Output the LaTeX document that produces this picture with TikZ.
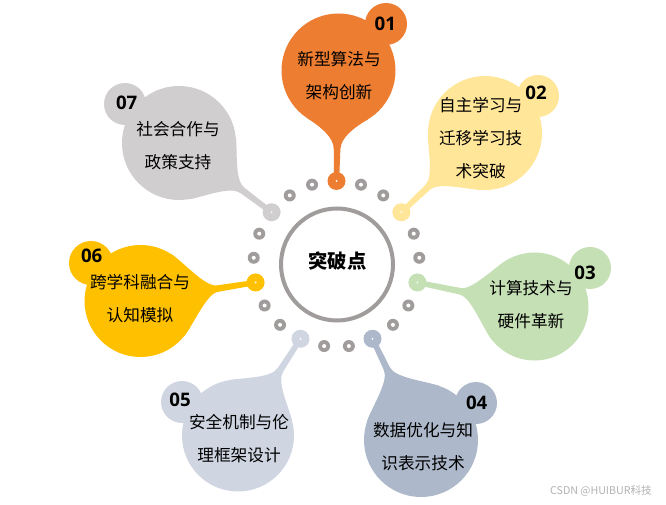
\documentclass[tikz,border=0pt]{standalone}
\usepackage{fontspec}
\setmainfont{Noto Sans CJK SC}
\newfontfamily\numfont{Open Sans}
\usetikzlibrary{calc}
\definecolor{cA}{HTML}{ED7D31}
\definecolor{cB}{HTML}{FFE699}
\definecolor{cC}{HTML}{C5E0B4}
\definecolor{cD}{HTML}{ADB9CA}
\definecolor{cE}{HTML}{D0D6E1}
\definecolor{cF}{HTML}{FFC000}
\definecolor{cG}{HTML}{D0CECE}
\definecolor{dotgray}{HTML}{A09C9C}
\newcommand\balloonstem[5]{%
  \pgfmathanglebetweenpoints{\pgfpointanchor{#2}{center}}{\pgfpointanchor{#3}{center}}%
  \let\stA\pgfmathresult
  \pgfpointdiff{\pgfpointanchor{#2}{center}}{\pgfpointanchor{#3}{center}}%
  \pgfgetlastxy{\stX}{\stY}%
  \pgfmathsetmacro\stD{veclen(\stX,\stY)/0.75}%
  \begin{scope}[shift={(#2)},rotate=\stA]
    \fill[#1] (0,2.6) -- ({\stD-#4-22},3.3)
      .. controls ({\stD-#4-10},3.3) and ({\stD-#4*cos(#5)-16*sin(#5)},{#4*sin(#5)-16*cos(#5)})
      .. ({\stD-#4*cos(#5)},{#4*sin(#5)}) -- (\stD,0) -- ({\stD-#4*cos(#5)},{-#4*sin(#5)})
      .. controls ({\stD-#4*cos(#5)-16*sin(#5)},{-#4*sin(#5)+16*cos(#5)}) and ({\stD-#4-10},-3.3)
      .. ({\stD-#4-22},-3.3) -- (0,-2.6) -- cycle;
  \end{scope}}
\tikzset{
  txt/.style={align=center, text=black, inner sep=0pt, font={\fontsize{12.5}{24.8}\selectfont}},
  num/.style={text=black, inner sep=0pt, font={\numfont\bfseries\fontsize{14}{14}\selectfont}},
  graydot/.style={fill=dotgray},
}
\begin{document}
\begin{tikzpicture}[x=0.75pt,y=-0.75pt]
\fill[white] (0,0) rectangle (666,505);
\useasboundingbox (0,0) rectangle (666,505);
\coordinate (O) at (336.5,264);
% coloured dots on the ring
\foreach \k in {1,...,7}{
  \coordinate (d\k) at ($(O)+({(\k-1)*360/7-90}:83)$);
}
% balloon centres and bumps
\coordinate (c1) at (338.5,70.5);  \coordinate (s1) at (386,24);
\coordinate (c2) at (485,133);     \coordinate (s2) at (538,96);
\coordinate (c3) at (534.5,306.5); \coordinate (s3) at (590,268);
\coordinate (c4) at (421,440);     \coordinate (s4) at (476,403);
\coordinate (c5) at (238,435.5);   \coordinate (s5) at (182,402);
\coordinate (c6) at (140.5,301);   \coordinate (s6) at (91,263);
\coordinate (c7) at (179,143);     \coordinate (s7) at (125,104);
% stems
\balloonstem{cA}{d1}{c1}{57}{32}
\balloonstem{cB}{d2}{c2}{57}{45}
\balloonstem{cC}{d3}{c3}{54}{50}
\balloonstem{cD}{d4}{c4}{57}{45}
\balloonstem{cE}{d5}{c5}{56}{42}
\balloonstem{cF}{d6}{c6}{56}{48}
\balloonstem{cG}{d7}{c7}{57}{42}
% bodies
\fill[cA] (c1) circle[radius=57]; \fill[cA] (s1) circle[radius=21];
\fill[cB] (c2) circle[radius=57]; \fill[cB] (s2) circle[radius=21];
\fill[cC] (c3) circle[radius=54]; \fill[cC] (s3) circle[radius=21];
\fill[cD] (c4) circle[radius=57]; \fill[cD] (s4) circle[radius=21];
\fill[cE] (c5) circle[radius=56]; \fill[cE] (s5) circle[radius=21];
\fill[cF] (c6) circle[radius=56]; \fill[cF] (s6) circle[radius=22];
\fill[cG] (c7) circle[radius=57]; \fill[cG] (s7) circle[radius=21];
% coloured ring dots
\foreach \k/\col in {1/cA,2/cB,3/cC,4/cD,5/cE,6/cF,7/cG}{
  \fill[\col] (d\k) circle[radius=9];
  \fill[white] (d\k) circle[radius=1];
}
% gray ring dots
\foreach \j in {1,2,4,5,7,8,10,11,13,14,16,17,19,20}{
  \coordinate (g\j) at ($(O)+({\j*360/21-90}:83)$);
  \fill[graydot] (g\j) circle[radius=6];
  \fill[white] (g\j) circle[radius=2];
}
% central circle
\node[circle, draw=dotgray, line width=3pt, minimum size=84pt, inner sep=0pt,
      font={\bfseries\fontsize{14.5}{14.5}\selectfont}, text=black] (core) at (337,264.5) {};
\node[inner sep=0pt, font={\bfseries\fontsize{14.5}{14.5}\selectfont}, text=black] (coretext) at (337.5,261) {突破点};
% texts
\node[txt] (t1) at (339,76)    {新型算法与\\架构创新};
\node[txt] (t2) at (480.7,138) {自主学习与\\迁移学习技\\术突破};
\node[txt] (t3) at (531,305)   {计算技术与\\硬件革新};
\node[txt] (t4) at (423,446.5) {数据优化与知\\识表示技术};
\node[txt] (t5) at (239,438.5) {安全机制与伦\\理框架设计};
\node[txt] (t6) at (140,299)   {跨学科融合与\\认知模拟};
\node[txt] (t7) at (178,145.5) {社会合作与\\政策支持};
\node[num] (n1) at (385.3,24)  {01};
\node[num] (n2) at (536,93.3)  {02};
\node[num] (n3) at (585,273)   {03};
\node[num] (n4) at (476.7,403.3) {04};
\node[num] (n5) at (180,400)   {05};
\node[num] (n6) at (91.7,256)  {06};
\node[num] (n7) at (126.7,103.3) {07};
\node[inner sep=0pt, text=black!30, font={\fontsize{8}{8}\selectfont}] (wm) at (601,491) {CSDN @HUIBUR科技};
\end{tikzpicture}
\end{document}
